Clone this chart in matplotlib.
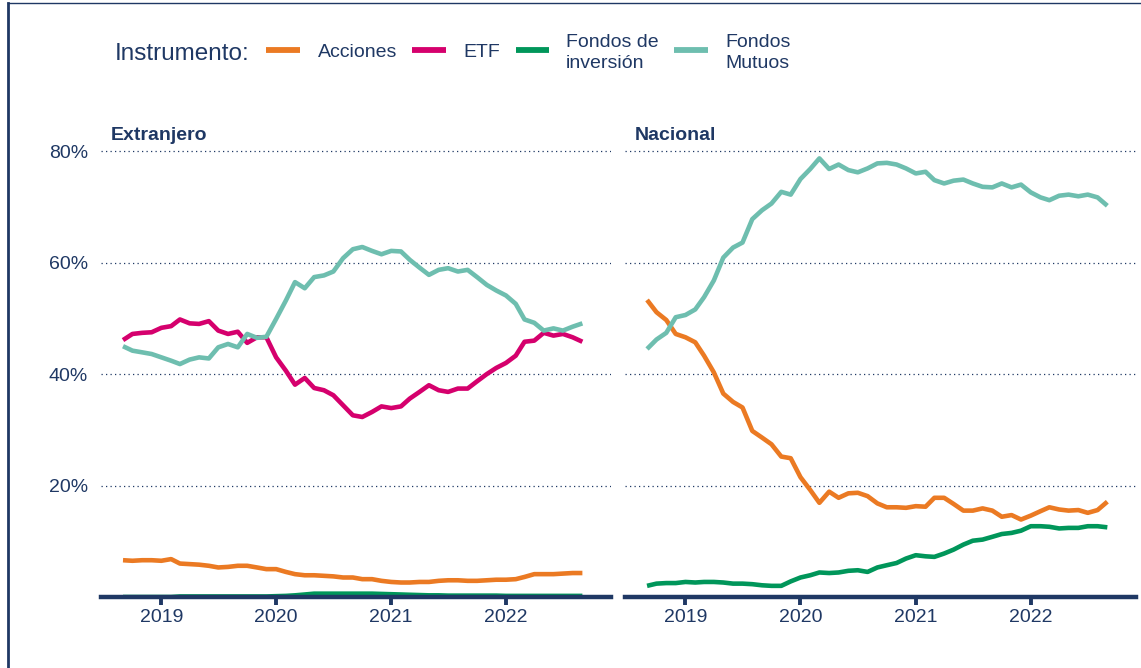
import matplotlib
matplotlib.use("Agg")
import matplotlib.pyplot as plt
import pandas as pd
from matplotlib.lines import Line2D

plt.rcParams['font.family'] = ['Liberation Sans', 'DejaVu Sans']

NAVY = '#1f3864'
COLORS = {'Acciones': '#EB7A23', 'ETF': '#D5006D',
          'Fondos de\ninversión': '#00965A', 'Fondos\nMutuos': '#6EBEAF'}

dates = pd.date_range('2018-09-01', periods=49, freq='MS')

# Extranjero
acc_ext = [6.6, 6.5, 6.6, 6.6, 6.5, 6.8, 6.0, 5.9, 5.8, 5.6,
           5.3, 5.4, 5.6, 5.6, 5.3, 5.0, 5.0, 4.5, 4.1, 3.9,
           3.9, 3.8, 3.7, 3.5, 3.5, 3.2, 3.2, 2.9, 2.7, 2.6,
           2.6, 2.7, 2.7, 2.9, 3.0, 3.0, 2.9, 2.9, 3.0, 3.1,
           3.1, 3.2, 3.6, 4.1, 4.1, 4.1, 4.2, 4.3, 4.3]
etf_ext = [46.1, 47.2, 47.4, 47.5, 48.3, 48.6, 49.8, 49.1, 49.0, 49.5,
           47.8, 47.2, 47.6, 45.6, 46.6, 46.6, 43.0, 40.6, 38.1, 39.3,
           37.5, 37.1, 36.2, 34.4, 32.6, 32.3, 33.2, 34.2, 33.9, 34.2,
           35.6, 36.8, 38.0, 37.1, 36.8, 37.4, 37.4, 38.7, 40.0, 41.1,
           42.0, 43.3, 45.8, 46.0, 47.4, 46.9, 47.2, 46.6, 45.8]
fi_ext = [0.0, 0.0, 0.0, 0.0, 0.0, 0.0, 0.1, 0.1, 0.1, 0.1,
          0.1, 0.1, 0.1, 0.1, 0.1, 0.1, 0.15, 0.2, 0.3, 0.45,
          0.6, 0.6, 0.6, 0.6, 0.6, 0.6, 0.6, 0.55, 0.5, 0.45,
          0.4, 0.35, 0.3, 0.3, 0.25, 0.25, 0.25, 0.25, 0.25, 0.25,
          0.2, 0.2, 0.2, 0.2, 0.2, 0.2, 0.2, 0.2, 0.2]
fm_ext = [45.0, 44.2, 43.9, 43.6, 43.0, 42.4, 41.8, 42.6, 43.0, 42.8,
          44.8, 45.4, 44.8, 47.2, 46.5, 46.7, 49.9, 53.2, 56.5, 55.4,
          57.4, 57.7, 58.4, 60.8, 62.4, 62.8, 62.1, 61.5, 62.1, 62.0,
          60.5, 59.1, 57.8, 58.7, 59.0, 58.4, 58.7, 57.4, 56.0, 55.0,
          54.1, 52.6, 49.8, 49.2, 47.8, 48.2, 47.8, 48.5, 49.1]

# Nacional
acc_nac = [53.3, 51.1, 49.7, 47.2, 46.6, 45.7, 43.3, 40.3, 36.5, 35.0,
           34.0, 29.8, 28.6, 27.4, 25.2, 24.9, 21.5, 19.2, 16.9, 18.9,
           17.8, 18.6, 18.7, 18.1, 16.8, 16.1, 16.1, 16.0, 16.3, 16.2,
           17.8, 17.8, 16.7, 15.5, 15.5, 15.9, 15.5, 14.4, 14.7, 13.9,
           14.6, 15.4, 16.1, 15.7, 15.5, 15.6, 15.1, 15.6, 17.1]
fi_nac = [2.0, 2.4, 2.5, 2.5, 2.7, 2.6, 2.7, 2.7, 2.6, 2.4,
          2.4, 2.3, 2.1, 2.0, 2.0, 2.8, 3.5, 3.9, 4.4, 4.3,
          4.4, 4.7, 4.8, 4.5, 5.3, 5.7, 6.1, 6.9, 7.5, 7.3,
          7.2, 7.8, 8.5, 9.4, 10.1, 10.3, 10.8, 11.3, 11.5, 11.9,
          12.7, 12.7, 12.6, 12.3, 12.4, 12.4, 12.7, 12.7, 12.5]
fm_nac = [44.5, 46.2, 47.4, 50.2, 50.6, 51.6, 53.8, 56.8, 60.9, 62.7,
          63.6, 67.8, 69.4, 70.6, 72.7, 72.2, 75.0, 76.8, 78.7, 76.8,
          77.6, 76.6, 76.2, 76.9, 77.8, 77.9, 77.6, 76.9, 76.0, 76.3,
          74.8, 74.2, 74.7, 74.9, 74.2, 73.6, 73.5, 74.2, 73.5, 74.0,
          72.6, 71.7, 71.2, 72.0, 72.2, 71.9, 72.2, 71.7, 70.2]

panels = ['Extranjero', 'Nacional']
series = {
    'Extranjero': {'Acciones': acc_ext, 'ETF': etf_ext,
                   'Fondos de\ninversión': fi_ext, 'Fondos\nMutuos': fm_ext},
    'Nacional': {'Acciones': acc_nac, 'Fondos de\ninversión': fi_nac,
                 'Fondos\nMutuos': fm_nac},
}
legend_labels = ['Acciones', 'ETF', 'Fondos de\ninversión', 'Fondos\nMutuos']
yticks = [20, 40, 60, 80]
ytick_labels = ['20%', '40%', '60%', '80%']
xtick_years = [2019, 2020, 2021, 2022]

W, H = 1141, 668
fig = plt.figure(figsize=(W / 100, H / 100), dpi=100)


def fx(px):
    return px / W


def fy(py):
    return 1 - py / H


ax_bottom, ax_top = 597, 140
boxes = [(101, 611), (625, 1136)]
xlim = (pd.Timestamp('2018-06-23'), pd.Timestamp('2022-12-01'))

for k, (name, (x0, x1)) in enumerate(zip(panels, boxes)):
    ax = fig.add_axes([fx(x0), fy(ax_bottom), (x1 - x0) / W, (ax_bottom - ax_top) / H])
    for lab, vals in series[name].items():
        ax.plot(dates, vals, color=COLORS[lab], lw=3.3, label=lab,
                solid_joinstyle='round', solid_capstyle='butt')
    ax.set_xlim(*xlim)
    ax.set_ylim(0, 82)
    for s in ['top', 'right', 'left']:
        ax.spines[s].set_visible(False)
    ax.spines['bottom'].set_linewidth(3.2)
    ax.spines['bottom'].set_color(NAVY)
    ax.spines['bottom'].set_zorder(5)
    ax.set_yticks(yticks)
    if k == 0:
        ax.set_yticklabels(ytick_labels)
    else:
        ax.set_yticklabels([])
    ax.tick_params(axis='y', length=0, pad=9.5, labelsize=14, labelcolor=NAVY)
    ax.set_xticks([pd.Timestamp(f'{y}-01-01') for y in xtick_years])
    ax.set_xticklabels([str(y) for y in xtick_years])
    ax.tick_params(axis='x', direction='out', length=5.5, width=2.8, color=NAVY,
                   pad=3, labelsize=14, labelcolor=NAVY)
    ax.grid(axis='y', color=NAVY, linestyle=(0, (1, 2.6)), linewidth=0.9)
    ax.grid(axis='x', visible=False)
    ax.set_axisbelow(True)
    ax.patch.set_alpha(0)
    fig.text(fx(x0 + 10), fy(140.5), name, fontsize=14, fontweight='bold',
             color=NAVY, va='baseline', ha='left')

# Legend (drawn manually for exact placement)
fig.text(fx(115), fy(59.5), 'Instrumento:', fontsize=17.5, color=NAVY,
         va='baseline', ha='left')
handle_x = [(266, 300), (412, 446), (516, 549), (674, 708)]
label_x = [318, 463, 566, 725]
for lab, (h0, h1), lx in zip(legend_labels, handle_x, label_x):
    fig.add_artist(Line2D([fx(h0), fx(h1)], [fy(50.3), fy(50.3)],
                          color=COLORS[lab], lw=4.2, solid_capstyle='butt'))
    lines = lab.split('\n')
    if len(lines) == 1:
        fig.text(fx(lx), fy(56.7), lines[0], fontsize=14, color=NAVY,
                 va='baseline', ha='left')
    else:
        fig.text(fx(lx), fy(47.3), lines[0], fontsize=14, color=NAVY,
                 va='baseline', ha='left')
        fig.text(fx(lx), fy(67.7), lines[1], fontsize=14, color=NAVY,
                 va='baseline', ha='left')

# Frame lines
fig.add_artist(Line2D([fx(7.5), fx(7.5)], [0, fy(2.5)], color=NAVY, lw=2.0))
fig.add_artist(Line2D([fx(7.5), 1], [fy(2.5), fy(2.5)], color=NAVY, lw=1.0))

fig.savefig('out.png', dpi=100, facecolor='white')
